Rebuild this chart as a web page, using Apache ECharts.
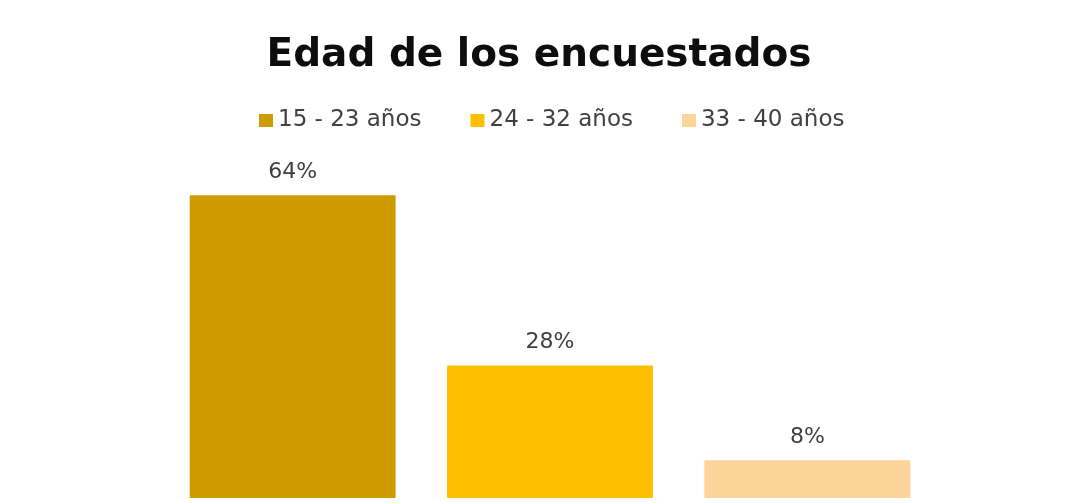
<!DOCTYPE html>
<html>
<head>
<meta charset="utf-8">
<script src="https://cdn.jsdelivr.net/npm/echarts@6/dist/echarts.min.js"></script>
<style>
  html, body { margin: 0; padding: 0; background: #fff; }
  #chart { width: 1078px; height: 503px; }
</style>
</head>
<body>
<div id="chart"></div>
<script>
const categories = ['15 - 23 años', '24 - 32 años', '33 - 40 años'];
const values = [64, 28, 8];
const barColors = ['#CF9C00', '#FDBF00', '#FDD49A'];

const chart = echarts.init(document.getElementById('chart'));

// one series per age group so the legend shows each colour
const series = categories.map((name, i) => ({
    name,
    type: 'bar',
    stack: 'edad',
    barWidth: '80%',
    data: values.map((v, j) => (j === i ? v : '-')),
    itemStyle: { color: barColors[i] },
    label: {
        show: true,
        position: 'top',
        distance: 12,
        formatter: p => p.value + '%',
        color: '#404040',
        fontFamily: 'DejaVu Sans',
        fontSize: 22
    }
}));

chart.setOption({
    backgroundColor: '#fff',
    animation: false,
    title: {
        text: 'Edad de los encuestados',
        left: 'center',
        top: 31,
        textStyle: { fontFamily: 'DejaVu Sans', fontWeight: 'bold', fontSize: 39, color: '#0d0d0d' }
    },
    legend: {
        data: categories,
        top: 104,
        left: 254,
        itemWidth: 14,
        itemHeight: 13,
        itemGap: 49,
        icon: 'rect',
        textStyle: { fontFamily: 'DejaVu Sans', fontSize: 23, color: '#404040' }
    },
    grid: { left: 164, right: 142, top: 167, bottom: 5 },
    xAxis: {
        type: 'category',
        data: categories,
        show: false
    },
    yAxis: {
        type: 'value',
        min: 0,
        max: 70,
        show: false
    },
    series
});
</script>
</body>
</html>
